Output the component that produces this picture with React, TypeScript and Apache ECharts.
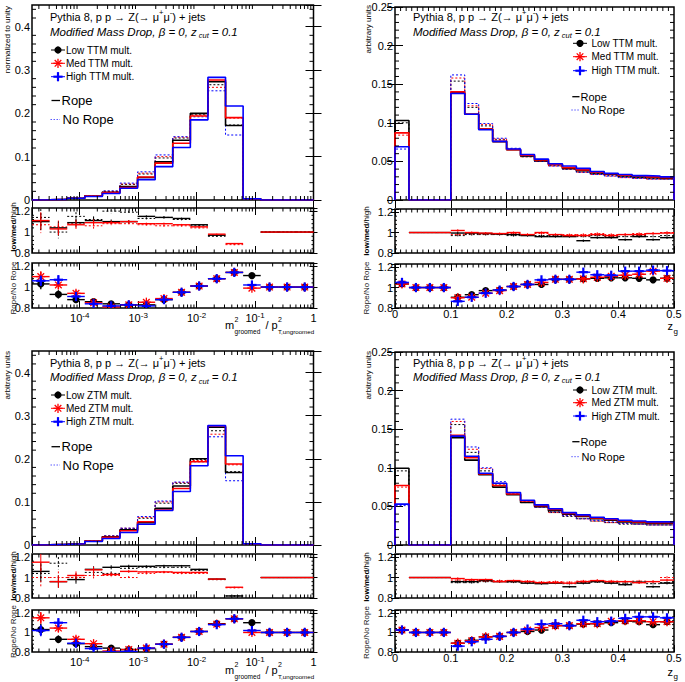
import React, { useEffect, useRef } from 'react';
import * as echarts from 'echarts';

const FONT = '"Liberation Sans", Arial, Helvetica, sans-serif';
const BLACK = '#000000';
const RED = '#ff0000';
const BLUE = '#0000ff';

// ---------- binning ----------
const massBinEdgesLog2 = [-16, -15, -14, -13, -12, -11, -10, -9, -8, -7, -6, -5, -4, -3, -2, -1, 0];
const zgBinEdges = [0, 0.025, 0.05, 0.075, 0.1, 0.125, 0.15, 0.175, 0.2, 0.225, 0.25, 0.275, 0.3, 0.325, 0.35, 0.375, 0.4, 0.425, 0.45, 0.475, 0.5];

// ---------- top-left: TTM, groomed mass ----------
const ttmMassLowRope = [0.0005, 0.0015, 0.004, 0.009, 0.018, 0.031, 0.052, 0.088, 0.138, 0.2, 0.273, 0.172, 0.003, 0, 0, 0];
const ttmMassMedRope = [0.0005, 0.0015, 0.004, 0.009, 0.017, 0.029, 0.053, 0.085, 0.131, 0.194, 0.277, 0.19, 0.003, 0, 0, 0];
const ttmMassHighRope = [0.0005, 0.0015, 0.004, 0.008, 0.015, 0.027, 0.047, 0.077, 0.121, 0.185, 0.283, 0.217, 0.003, 0, 0, 0];
const ttmMassLowNoRope = [0.0005, 0.0015, 0.004, 0.01, 0.02, 0.036, 0.06, 0.097, 0.143, 0.198, 0.266, 0.173, 0.003, 0, 0, 0];
const ttmMassMedNoRope = [0.0005, 0.0015, 0.004, 0.01, 0.02, 0.037, 0.062, 0.1, 0.145, 0.196, 0.26, 0.189, 0.003, 0, 0, 0];
const ttmMassHighNoRope = [0.0005, 0.0015, 0.004, 0.01, 0.021, 0.039, 0.065, 0.104, 0.146, 0.192, 0.252, 0.15, 0.003, 0, 0, 0];
const ttmMassLowHighRope = [1.1, 1.04, 1.09, 1.11, 1.1, 1.1, 1.15, 1.14, 1.13, 1.07, 0.97, null, null, 1, 1, 1];
const ttmMassLowHighNoRope = [1.14, 1.0, 1.15, 1.12, 1.2, 1.19, 1.13, 1.14, 1.12, 1.06, 0.96, null, null, 1, 1, 1];
const ttmMassMedHighRope = [1.11, 1.03, 1.07, 1.09, 1.09, 1.1, 1.08, 1.08, 1.07, 1.05, 0.98, 0.89, null, 1, 1, 1];
const ttmMassMedHighNoRope = [1.07, 1.05, 1.08, 1.06, 1.08, 1.08, 1.07, 1.06, 1.06, 1.04, 0.97, 0.88, null, 1, 1, 1];
const ttmMassFlavourErr = [0.08, 0.06, 0.04, 0.03, 0.02, 0.015, 0.01, 0.01, 0.008, 0.006, 0.005, 0.006, 0, 0, 0, 0];
const ttmMassLowRatio = [1.03, 0.93, 0.88, 0.86, 0.84, 0.83, 0.83, 0.88, 0.95, 1.01, 1.08, 1.14, 1.11, 1, 1, 1];
const ttmMassMedRatio = [1.1, 1.02, 0.94, 0.85, 0.81, 0.83, 0.855, 0.89, 0.95, 1.01, 1.08, 1.14, 0.99, 1, 1, 1];
const ttmMassHighRatio = [1.06, 1.07, 0.91, 0.84, 0.82, 0.83, 0.82, 0.88, 0.95, 1.01, 1.08, 1.14, 1.02, 1, 1, 1];
const ttmMassRatioErr = [0.05, 0.04, 0.03, 0.02, 0.015, 0.01, 0.01, 0.008, 0.006, 0.005, 0.005, 0.006, 0.02, 0, 0, 0];

// ---------- top-right: TTM, z_g ----------
const ttmZgLowRope = [0.103, 0, 0, 0, 0.139, 0.111, 0.092, 0.0755, 0.065, 0.057, 0.051, 0.046, 0.041, 0.038, 0.035, 0.0335, 0.031, 0.03, 0.029, 0.028];
const ttmZgMedRope = [0.087, 0, 0, 0, 0.14, 0.111, 0.092, 0.076, 0.065, 0.058, 0.052, 0.046, 0.042, 0.039, 0.036, 0.034, 0.032, 0.031, 0.03, 0.029];
const ttmZgHighRope = [0.069, 0, 0, 0, 0.138, 0.111, 0.091, 0.076, 0.066, 0.059, 0.053, 0.047, 0.044, 0.041, 0.037, 0.0345, 0.033, 0.0316, 0.031, 0.03];
const ttmZgLowNoRope = [0.1, 0, 0, 0, 0.154, 0.12, 0.096, 0.078, 0.066, 0.056, 0.05, 0.045, 0.04, 0.036, 0.034, 0.032, 0.03, 0.029, 0.028, 0.028];
const ttmZgMedNoRope = [0.084, 0, 0, 0, 0.158, 0.122, 0.098, 0.079, 0.066, 0.056, 0.05, 0.044, 0.04, 0.036, 0.033, 0.031, 0.029, 0.028, 0.027, 0.027];
const ttmZgHighNoRope = [0.066, 0, 0, 0, 0.162, 0.125, 0.099, 0.08, 0.067, 0.057, 0.05, 0.044, 0.04, 0.036, 0.033, 0.031, 0.029, 0.028, 0.027, 0.027];
const ttmZgLowHighRope = [null, 1, 1, 1, 0.995, 0.995, 0.99, 0.985, 0.98, 0.97, 0.96, 0.96, 0.96, 0.92, 0.95, 0.95, 0.93, 0.96, 0.93, 0.95];
const ttmZgLowHighNoRope = [null, 1, 1, 1, 0.97, 0.98, 0.98, 0.98, 0.97, 0.975, 0.97, 0.97, 0.97, 0.96, 0.97, 0.96, 0.96, 0.97, 0.96, 0.97];
const ttmZgMedHighRope = [null, 1, 1, 1, 1.02, 1.0, 0.995, 0.99, 1.0, 0.98, 1.0, 0.98, 0.97, 0.97, 0.98, 0.97, 0.98, 0.98, 0.99, 0.995];
const ttmZgMedHighNoRope = [null, 1, 1, 1, 0.98, 0.99, 0.985, 0.985, 0.99, 0.98, 0.99, 0.98, 0.98, 0.98, 0.99, 0.98, 0.98, 0.99, 0.99, 1.0];
const ttmZgFlavourErr = [0, 0, 0, 0, 0.012, 0.01, 0.01, 0.01, 0.01, 0.01, 0.01, 0.01, 0.01, 0.012, 0.012, 0.012, 0.012, 0.012, 0.012, 0.012];
const ttmZgLowRatio = [1.035, 1, 1, 1, 0.905, 0.93, 0.97, 0.975, 1.01, 1.03, 1.03, 1.08, 1.08, 1.085, 1.09, 1.095, 1.095, 1.09, 1.075, 1.09];
const ttmZgMedRatio = [1.035, 1, 1, 1, 0.9, 0.905, 0.945, 0.97, 1.01, 1.03, 1.05, 1.08, 1.08, 1.085, 1.1, 1.11, 1.12, 1.13, 1.16, 1.09];
const ttmZgHighRatio = [1.05, 1, 1, 1, 0.865, 0.905, 0.945, 0.975, 1.01, 1.03, 1.075, 1.08, 1.08, 1.15, 1.125, 1.12, 1.16, 1.16, 1.17, 1.165];
const ttmZgRatioErr = [0.01, 0, 0, 0, 0.012, 0.01, 0.01, 0.01, 0.01, 0.01, 0.01, 0.01, 0.01, 0.012, 0.012, 0.012, 0.012, 0.012, 0.012, 0.012];

// ---------- bottom-left: ZTM, groomed mass ----------
const ztmMassLowRope = [0.0005, 0.0015, 0.003, 0.009, 0.019, 0.035, 0.052, 0.085, 0.137, 0.2, 0.273, 0.168, 0.003, 0, 0, 0];
const ztmMassMedRope = [0.0005, 0.0015, 0.003, 0.009, 0.018, 0.033, 0.054, 0.081, 0.131, 0.193, 0.276, 0.188, 0.003, 0, 0, 0];
const ztmMassHighRope = [0.0005, 0.0015, 0.003, 0.008, 0.015, 0.029, 0.048, 0.08, 0.124, 0.184, 0.277, 0.207, 0.003, 0, 0, 0];
const ztmMassLowNoRope = [0.0005, 0.0015, 0.003, 0.01, 0.021, 0.038, 0.062, 0.097, 0.143, 0.198, 0.265, 0.17, 0.003, 0, 0, 0];
const ztmMassMedNoRope = [0.0005, 0.0015, 0.003, 0.01, 0.021, 0.039, 0.064, 0.1, 0.145, 0.196, 0.257, 0.186, 0.003, 0, 0, 0];
const ztmMassHighNoRope = [0.0005, 0.0015, 0.003, 0.01, 0.021, 0.039, 0.066, 0.102, 0.146, 0.193, 0.251, 0.149, 0.003, 0, 0, 0];
const ztmMassLowHighRope = [1.06, 0.96, 0.98, 1.08, 1.1, 1.11, 1.11, 1.115, 1.115, 1.08, 0.985, 0.82, null, 1, 1, 1];
const ztmMassLowHighNoRope = [1.04, 1.14, 1.0, 1.05, 1.04, 1.09, 1.1, 1.1, 1.1, 1.07, 0.98, 0.82, null, 1, 1, 1];
const ztmMassMedHighRope = [1.15, 0.96, 1.02, 1.075, 1.03, 1.06, 1.055, 1.055, 1.05, 1.05, 0.985, 0.905, null, 1, 1, 1];
const ztmMassMedHighNoRope = [1.0, 1.0, 1.0, 1.02, 1.02, 1.0, 1.04, 1.05, 1.04, 1.04, 0.98, 0.9, null, 1, 1, 1];
const ztmMassFlavourErr = [0.09, 0.06, 0.04, 0.03, 0.02, 0.015, 0.01, 0.01, 0.008, 0.006, 0.005, 0.006, 0, 0, 0, 0];
const ztmMassLowRatio = [1.03, 0.93, 0.885, 0.855, 0.84, 0.825, 0.835, 0.88, 0.95, 1.01, 1.09, 1.14, 1.1, 1, 1, 1];
const ztmMassMedRatio = [1.15, 1.045, 0.93, 0.885, 0.81, 0.825, 0.84, 0.88, 0.95, 1.01, 1.085, 1.14, 1.0, 1, 1, 1];
const ztmMassHighRatio = [1.02, 1.1, 0.89, 0.835, 0.8, 0.805, 0.84, 0.88, 0.95, 1.01, 1.08, 1.14, 1.02, 1, 1, 1];
const ztmMassRatioErr = [0.06, 0.04, 0.03, 0.02, 0.015, 0.01, 0.01, 0.008, 0.006, 0.005, 0.005, 0.006, 0.02, 0, 0, 0];

// ---------- bottom-right: ZTM, z_g ----------
const ztmZgLowRope = [0.0995, 0, 0, 0, 0.139, 0.11, 0.091, 0.075, 0.065, 0.055, 0.05, 0.0445, 0.04, 0.037, 0.034, 0.032, 0.03, 0.029, 0.028, 0.028];
const ztmZgMedRope = [0.077, 0, 0, 0, 0.142, 0.113, 0.092, 0.077, 0.066, 0.057, 0.051, 0.046, 0.041, 0.038, 0.035, 0.033, 0.031, 0.03, 0.029, 0.029];
const ztmZgHighRope = [0.053, 0, 0, 0, 0.141, 0.115, 0.093, 0.08, 0.068, 0.058, 0.052, 0.047, 0.042, 0.039, 0.036, 0.034, 0.032, 0.031, 0.03, 0.03];
const ztmZgLowNoRope = [0.096, 0, 0, 0, 0.156, 0.12, 0.096, 0.079, 0.066, 0.055, 0.049, 0.042, 0.037, 0.034, 0.031, 0.029, 0.027, 0.027, 0.026, 0.026];
const ztmZgMedNoRope = [0.075, 0, 0, 0, 0.16, 0.124, 0.099, 0.08, 0.067, 0.056, 0.049, 0.042, 0.038, 0.034, 0.031, 0.029, 0.028, 0.027, 0.026, 0.026];
const ztmZgHighNoRope = [0.051, 0, 0, 0, 0.163, 0.127, 0.1, 0.082, 0.068, 0.056, 0.049, 0.043, 0.038, 0.034, 0.032, 0.03, 0.028, 0.027, 0.026, 0.026];
const ztmZgLowHighRope = [null, 1, 1, 1, 0.96, 0.96, 0.97, 0.96, 0.96, 0.945, 0.94, 0.945, 0.91, 0.945, 0.96, 0.945, 0.93, 0.955, 0.91, 0.945];
const ztmZgLowHighNoRope = [null, 1, 1, 1, 0.95, 0.95, 0.96, 0.96, 0.955, 0.95, 0.95, 0.95, 0.94, 0.95, 0.955, 0.95, 0.945, 0.95, 0.94, 0.95];
const ztmZgMedHighRope = [null, 1, 1, 1, 0.99, 0.98, 0.98, 0.96, 0.97, 0.96, 0.95, 0.95, 0.945, 0.96, 0.97, 0.96, 0.96, 0.95, 0.96, 0.975];
const ztmZgMedHighNoRope = [null, 1, 1, 1, 0.975, 0.97, 0.965, 0.97, 0.96, 0.965, 0.955, 0.96, 0.955, 0.965, 0.97, 0.965, 0.96, 0.965, 0.96, 1.0];
const ztmZgFlavourErr = [0, 0, 0, 0, 0.012, 0.01, 0.01, 0.01, 0.01, 0.01, 0.01, 0.01, 0.01, 0.012, 0.012, 0.012, 0.012, 0.012, 0.012, 0.012];
const ztmZgLowRatio = [1.025, 1, 1, 1, 0.89, 0.92, 0.955, 0.96, 1.0, 1.01, 1.025, 1.07, 1.07, 1.085, 1.09, 1.1, 1.115, 1.11, 1.08, 1.11];
const ztmZgMedRatio = [1.025, 1, 1, 1, 0.89, 0.915, 0.955, 0.96, 1.0, 1.025, 1.05, 1.07, 1.07, 1.09, 1.09, 1.115, 1.12, 1.12, 1.11, 1.11];
const ztmZgHighRatio = [1.025, 1, 1, 1, 0.86, 0.905, 0.93, 0.96, 1.0, 1.035, 1.085, 1.09, 1.07, 1.125, 1.11, 1.115, 1.145, 1.16, 1.16, 1.15];
const ztmZgRatioErr = [0.01, 0, 0, 0, 0.012, 0.01, 0.01, 0.01, 0.01, 0.01, 0.01, 0.01, 0.01, 0.012, 0.012, 0.012, 0.012, 0.012, 0.012, 0.012];

// ---------- axis tick label values ----------
const massDecadeLabels = [-4, -3, -2, -1, 0];
const zgTickLabels = [0, 0.1, 0.2, 0.3, 0.4, 0.5];

// ---------- helpers ----------
const LOG10_2 = Math.log10(2);
const massEdges = massBinEdgesLog2.map((k) => k * LOG10_2);

type Num = number | null;

function stepData(edges: number[], vals: number[]) {
  const pts: number[][] = [[edges[0], 0]];
  vals.forEach((v, i) => {
    pts.push([edges[i], v], [edges[i + 1], v]);
  });
  pts.push([edges[edges.length - 1], 0]);
  return pts;
}

function binData(edges: number[], vals: Num[], errs: number[]) {
  const out: number[][] = [];
  vals.forEach((v, i) => {
    if (v === null || v === undefined) return;
    out.push([edges[i], edges[i + 1], v, errs[i] || 0]);
  });
  return out;
}

function ln(x1: number, y1: number, x2: number, y2: number, stroke: string, lineWidth: number, dash?: number[]) {
  return { type: 'line', shape: { x1, y1, x2, y2 }, style: { stroke, lineWidth, lineDash: dash || null, fill: null } };
}

function markerShape(kind: string, x: number, y: number, color: string): any[] {
  if (kind === 'circle') return [{ type: 'circle', shape: { cx: x, cy: y, r: 3.6 }, style: { fill: color } }];
  if (kind === 'plus') {
    const r = 4.6;
    return [ln(x - r, y, x + r, y, color, 2.2), ln(x, y - r, x, y + r, color, 2.2)];
  }
  const r = 4.6;
  const d = r * 0.72;
  return [
    ln(x - r, y, x + r, y, color, 1.3),
    ln(x, y - r, x, y + r, color, 1.3),
    ln(x - d, y - d, x + d, y + d, color, 1.3),
    ln(x - d, y + d, x + d, y - d, color, 1.3),
  ];
}

function segRender(color: string, dash: number[] | null, lw: number) {
  return (params: any, api: any) => {
    const x0 = api.value(0), x1 = api.value(1), y = api.value(2), e = api.value(3);
    const a = api.coord([x0, y]);
    const b = api.coord([x1, y]);
    const xc = (x0 + x1) / 2;
    const u = api.coord([xc, y + e]);
    const d = api.coord([xc, y - e]);
    const children: any[] = [ln(a[0], a[1], b[0], b[1], color, lw, dash || undefined)];
    if (e > 0) children.push(ln(u[0], u[1], d[0], d[1], color, 1, dash || undefined));
    return { type: 'group', children };
  };
}

function markerRender(kind: string, color: string) {
  return (params: any, api: any) => {
    const x0 = api.value(0), x1 = api.value(1), y = api.value(2), e = api.value(3);
    const a = api.coord([x0, y]);
    const b = api.coord([x1, y]);
    const xc = (x0 + x1) / 2;
    const c = api.coord([xc, y]);
    const children: any[] = [ln(a[0], a[1], b[0], b[1], color, 1.4)];
    if (e > 0) {
      const u = api.coord([xc, y + e]);
      const d = api.coord([xc, y - e]);
      children.push(ln(u[0], u[1], d[0], d[1], color, 1.4));
    }
    children.push(...markerShape(kind, c[0], c[1], color));
    return { type: 'group', children };
  };
}

type AxSpec = {
  min: number;
  max: number;
  interval?: number;
  majorLen: number;
  minorLen: number;
  minor: number[];
  fmt: (v: number) => string;
  rich?: any;
  labelMargin?: number;
  lineHeight?: number;
};

function linMinor(min: number, max: number, step: number, every: number) {
  const out: number[] = [];
  const n0 = Math.ceil(min / step - 1e-9);
  const n1 = Math.floor(max / step + 1e-9);
  for (let n = n0; n <= n1; n++) {
    if (n % every !== 0) out.push(n * step);
  }
  return out;
}

function logMinor(min: number, max: number) {
  const out: number[] = [];
  for (let d = -6; d <= 0; d++) {
    for (let k = 2; k <= 9; k++) {
      const v = d + Math.log10(k);
      if (v > min + 1e-9 && v < max - 1e-9) out.push(v);
    }
  }
  return out;
}

const near = (v: number, list: number[]) => list.some((t) => Math.abs(t - v) < 1e-6);

function buildOption() {
  const grid: any[] = [];
  const xAxis: any[] = [];
  const yAxis: any[] = [];
  const series: any[] = [];
  const graphic: any[] = [];

  const addGrid = (rect: number[], xs: AxSpec, ys: AxSpec, showX: boolean) => {
    const gi = grid.length;
    grid.push({
      left: rect[0], top: rect[1], width: rect[2], height: rect[3],
      show: true, borderColor: '#000', borderWidth: 1.5, backgroundColor: 'transparent', containLabel: false,
    });
    const baseAx = (s: AxSpec) => ({
      type: 'value', gridIndex: gi, min: s.min, max: s.max,
      ...(s.interval ? { interval: s.interval } : { splitNumber: 5 }),
      axisLine: { show: false }, splitLine: { show: false }, minorTick: { show: false },
      axisTick: { show: true, inside: true, length: s.majorLen, lineStyle: { color: '#000', width: 1 } },
    });
    const xi = xAxis.length;
    xAxis.push({
      ...baseAx(xs), position: 'bottom',
      axisLabel: showX
        ? { show: true, formatter: xs.fmt, color: '#000', fontSize: 11, fontFamily: FONT, margin: xs.labelMargin ?? 2, lineHeight: xs.lineHeight ?? 12, rich: xs.rich }
        : { show: false },
    });
    xAxis.push({ ...baseAx(xs), position: 'top', axisLabel: { show: false } });
    const yi = yAxis.length;
    yAxis.push({
      ...baseAx(ys), position: 'left',
      axisLabel: { show: true, formatter: ys.fmt, color: '#000', fontSize: 11, fontFamily: FONT, margin: 2 },
    });
    yAxis.push({ ...baseAx(ys), position: 'right', axisLabel: { show: false } });

    // minor ticks drawn through the axes' own scales
    const tickData: number[][] = [];
    xs.minor.forEach((v) => tickData.push([v, 0, xs.minorLen]));
    ys.minor.forEach((v) => tickData.push([v, 1, ys.minorLen]));
    series.push({
      type: 'custom', xAxisIndex: xi, yAxisIndex: yi, silent: true, z: 5,
      data: tickData,
      encode: { x: 0 },
      renderItem: (params: any, api: any) => {
        const cs = params.coordSys;
        const v = api.value(0), flag = api.value(1), len = api.value(2);
        if (flag === 0) {
          const px = api.coord([v, ys.min])[0];
          const bt = cs.y + cs.height, tp = cs.y;
          return { type: 'group', children: [ln(px, bt, px, bt - len, '#000', 1), ln(px, tp, px, tp + len, '#000', 1)] };
        }
        const py = api.coord([xs.min, v])[1];
        const l = cs.x, r = cs.x + cs.width;
        return { type: 'group', children: [ln(l, py, l + len, py, '#000', 1), ln(r, py, r - len, py, '#000', 1)] };
      },
    });
    return { xi, yi };
  };

  const massX = (majorLen: number, minorLen: number): AxSpec => ({
    min: massEdges[0], max: massEdges[massEdges.length - 1], majorLen, minorLen,
    minor: logMinor(massEdges[0], 0),
    fmt: (v: number) => {
      const r = Math.round(v);
      if (Math.abs(v - r) > 1e-6 || !near(r, massDecadeLabels)) return '';
      return r === 0 ? '1' : '10{s|' + r + '}';
    },
    rich: { s: { fontSize: 8, fontFamily: FONT, color: '#000', verticalAlign: 'top', lineHeight: 14 } },
    labelMargin: 3,
    lineHeight: 14,
  });
  const zgX = (majorLen: number, minorLen: number): AxSpec => ({
    min: 0, max: 0.5, interval: 0.1, majorLen, minorLen,
    minor: linMinor(0, 0.5, 0.01, 10),
    fmt: (v: number) => (near(v, zgTickLabels) ? String(Math.round(v * 10) / 10) : ''),
    labelMargin: 0,
    lineHeight: 11,
  });
  const mainYMass: AxSpec = {
    min: 0, max: 0.45, interval: 0.1, majorLen: 8, minorLen: 4,
    minor: linMinor(0, 0.45, 0.02, 5),
    fmt: (v: number) => (v > 0.41 ? '' : String(Math.round(v * 10) / 10)),
  };
  const mainYZg: AxSpec = {
    min: 0, max: 0.25, interval: 0.05, majorLen: 8, minorLen: 4,
    minor: linMinor(0, 0.25, 0.01, 5),
    fmt: (v: number) => String(Math.round(v * 100) / 100),
  };
  const ratioY: AxSpec = {
    min: 0.8, max: 1.23, interval: 0.2, majorLen: 4, minorLen: 2,
    minor: linMinor(0.8, 1.23, 0.04, 5),
    fmt: (v: number) => (Math.abs(v * 5 - Math.round(v * 5)) < 1e-6 ? String(Math.round(v * 10) / 10) : ''),
  };

  type Panel = {
    isMass: boolean;
    rects: number[][];
    main: number[][]; // low, med, high rope, low, med, high no-rope
    flav: Num[][]; // lowHighRope, lowHighNoRope, medHighRope, medHighNoRope
    flavErr: number[];
    ratio: number[][]; // low, med, high
    ratioErr: number[];
  };

  const panels: Panel[] = [
    {
      isMass: true,
      rects: [[32, 5, 281.5, 195], [32, 208, 281.5, 45], [32, 263, 281.5, 45]],
      main: [ttmMassLowRope, ttmMassMedRope, ttmMassHighRope, ttmMassLowNoRope, ttmMassMedNoRope, ttmMassHighNoRope],
      flav: [ttmMassLowHighRope, ttmMassLowHighNoRope, ttmMassMedHighRope, ttmMassMedHighNoRope],
      flavErr: ttmMassFlavourErr,
      ratio: [ttmMassLowRatio, ttmMassMedRatio, ttmMassHighRatio],
      ratioErr: ttmMassRatioErr,
    },
    {
      isMass: false,
      rects: [[395, 7, 279, 193], [395, 209, 279, 44], [395, 264, 279, 44]],
      main: [ttmZgLowRope, ttmZgMedRope, ttmZgHighRope, ttmZgLowNoRope, ttmZgMedNoRope, ttmZgHighNoRope],
      flav: [ttmZgLowHighRope, ttmZgLowHighNoRope, ttmZgMedHighRope, ttmZgMedHighNoRope],
      flavErr: ttmZgFlavourErr,
      ratio: [ttmZgLowRatio, ttmZgMedRatio, ttmZgHighRatio],
      ratioErr: ttmZgRatioErr,
    },
    {
      isMass: true,
      rects: [[32, 351, 281.5, 194], [32, 554, 281.5, 44], [32, 610, 281.5, 42]],
      main: [ztmMassLowRope, ztmMassMedRope, ztmMassHighRope, ztmMassLowNoRope, ztmMassMedNoRope, ztmMassHighNoRope],
      flav: [ztmMassLowHighRope, ztmMassLowHighNoRope, ztmMassMedHighRope, ztmMassMedHighNoRope],
      flavErr: ztmMassFlavourErr,
      ratio: [ztmMassLowRatio, ztmMassMedRatio, ztmMassHighRatio],
      ratioErr: ztmMassRatioErr,
    },
    {
      isMass: false,
      rects: [[395, 352, 279, 193], [395, 554, 279, 44], [395, 610, 279, 42]],
      main: [ztmZgLowRope, ztmZgMedRope, ztmZgHighRope, ztmZgLowNoRope, ztmZgMedNoRope, ztmZgHighNoRope],
      flav: [ztmZgLowHighRope, ztmZgLowHighNoRope, ztmZgMedHighRope, ztmZgMedHighNoRope],
      flavErr: ztmZgFlavourErr,
      ratio: [ztmZgLowRatio, ztmZgMedRatio, ztmZgHighRatio],
      ratioErr: ztmZgRatioErr,
    },
  ];

  panels.forEach((p) => {
    const edges = p.isMass ? massEdges : zgBinEdges;
    const xSpec = (maj: number, mn: number) => (p.isMass ? massX(maj, mn) : zgX(maj, mn));
    // main histogram
    const m = addGrid(p.rects[0], xSpec(8, 4), p.isMass ? mainYMass : mainYZg, false);
    const cols = [BLACK, RED, BLUE];
    [3, 4, 5, 0, 1, 2].forEach((si) => {
      const rope = si < 3;
      series.push({
        type: 'line', xAxisIndex: m.xi, yAxisIndex: m.yi, silent: true, clip: true,
        data: stepData(edges, p.main[si]), showSymbol: false, symbol: 'none',
        lineStyle: { color: cols[si % 3], width: rope ? 1.6 : 1, type: rope ? 'solid' : [2, 2] },
        z: rope ? 3 : 2,
      });
    });
    // low/med/high ratio
    const f = addGrid(p.rects[1], xSpec(7, 3.5), ratioY, false);
    const flavStyle = [
      { c: BLACK, dash: null, lw: 1.4 },
      { c: BLACK, dash: [2, 2], lw: 1 },
      { c: RED, dash: null, lw: 1.4 },
      { c: RED, dash: [2, 2], lw: 1 },
    ];
    [1, 3, 0, 2].forEach((fi) => {
      const st = flavStyle[fi];
      series.push({
        type: 'custom', xAxisIndex: f.xi, yAxisIndex: f.yi, silent: true, clip: true,
        data: binData(edges, p.flav[fi], p.flavErr), encode: { x: [0, 1], y: 2 },
        renderItem: segRender(st.c, st.dash, st.lw), z: 3,
      });
    });
    // rope / no rope ratio
    const r = addGrid(p.rects[2], xSpec(7, 3.5), ratioY, true);
    const kinds = ['circle', 'star', 'plus'];
    [0, 1, 2].forEach((ri) => {
      series.push({
        type: 'custom', xAxisIndex: r.xi, yAxisIndex: r.yi, silent: true, clip: true,
        data: binData(edges, p.ratio[ri], p.ratioErr), encode: { x: [0, 1], y: 2 },
        renderItem: markerRender(kinds[ri], cols[ri]), z: 3 + ri,
      });
    });
  });

  // ---------- texts ----------
  const txt = (x: number, y: number, text: string, o: any = {}) => ({
    type: 'text', x, y, rotation: o.rotation || 0, z: 100,
    style: {
      text, fill: o.color || '#000', fontSize: o.size || 11, fontFamily: FONT,
      fontStyle: o.italic ? 'italic' : 'normal', fontWeight: o.bold ? 'bold' : 'normal',
      align: o.align || 'left', verticalAlign: o.valign || 'middle',
      textAlign: o.align || 'left', textVerticalAlign: o.valign || 'middle',
      rich: o.rich,
    },
  });

  const headRich = {
    n: { fontSize: 11, fontFamily: FONT, color: '#000', lineHeight: 16, verticalAlign: 'middle' },
    s: { fontSize: 7.5, fontFamily: FONT, color: '#000', lineHeight: 16, verticalAlign: 'top' },
  };
  const mmdRich = {
    i: { fontSize: 11.5, fontFamily: FONT, fontStyle: 'italic', color: '#000', lineHeight: 16, verticalAlign: 'middle' },
    b: { fontSize: 7.5, fontFamily: FONT, fontStyle: 'italic', color: '#000', lineHeight: 16, verticalAlign: 'bottom', padding: [0, 3, 0, 2] },
  };

  type Deco = {
    tag: string; tx: number; py: number; my: number; mx: number; ttx: number; legY: number[]; legSize: number;
    ropeL: number[]; ropeTx: number; ropeY: number; noRopeY: number; ropeSize: number;
  };
  const decos: Deco[] = [
    { tag: 'TTM', tx: 50, py: 16.5, my: 31.5, mx: 58, ttx: 66, legY: [50, 63.3, 76.7], legSize: 10, ropeL: [51.5, 60], ropeTx: 61.5, ropeY: 100.5, noRopeY: 119.5, ropeSize: 13 },
    { tag: 'TTM', tx: 413, py: 16.5, my: 31.5, mx: 580, ttx: 591.5, legY: [43.3, 56.7, 70.7], legSize: 10, ropeL: [572.3, 579.5], ropeTx: 580.5, ropeY: 96.7, noRopeY: 110, ropeSize: 11 },
    { tag: 'ZTM', tx: 50, py: 362.8, my: 377.3, mx: 58, ttx: 66, legY: [395, 408.3, 421.7], legSize: 10, ropeL: [51.5, 60], ropeTx: 61.5, ropeY: 446.7, noRopeY: 465, ropeSize: 13 },
    { tag: 'ZTM', tx: 413, py: 362.7, my: 376.7, mx: 580, ttx: 591.5, legY: [390, 402.7, 416], legSize: 10, ropeL: [572.3, 579.5], ropeTx: 580.5, ropeY: 441.7, noRopeY: 456.7, ropeSize: 11 },
  ];
  const legNames = ['Low', 'Med', 'High'];
  const legCols = [BLACK, RED, BLUE];
  const legKinds = ['circle', 'star', 'plus'];
  decos.forEach((d) => {
    graphic.push(txt(d.tx, d.py, '{n|Pythia 8, p p → Z(→ μ}{s|+}{n|μ}{s|-}{n|) + jets}', { rich: headRich }));
    graphic.push(txt(d.tx, d.my, '{i|Modified Mass Drop, β = 0, z}{b|cut}{i|= 0.1}', { rich: mmdRich }));
    legNames.forEach((nm, i) => {
      const y = d.legY[i];
      graphic.push(ln(d.mx - 7, y, d.mx + 7, y, legCols[i], 1));
      markerShape(legKinds[i], d.mx, y, legCols[i]).forEach((e) => graphic.push(e));
      graphic.push(txt(d.ttx, y, nm + ' ' + d.tag + ' mult.', { size: d.legSize }));
    });
    graphic.push(ln(d.ropeL[0], d.ropeY, d.ropeL[1], d.ropeY, '#000', 1.3));
    graphic.push(txt(d.ropeTx, d.ropeY, 'Rope', { size: d.ropeSize }));
    graphic.push(ln(d.ropeL[0] - 1, d.noRopeY, d.ropeL[1], d.noRopeY, '#5a5aff', 1, [1.5, 1.5]));
    graphic.push(txt(d.ropeTx + 1, d.noRopeY, 'No Rope', { size: d.ropeSize }));
  });

  // y-axis titles
  const V = Math.PI / 2;
  graphic.push(txt(7.5, 6, 'normalized to unity', { size: 8, rotation: V, align: 'right' }));
  graphic.push(txt(368, 5, 'arbitrary units', { size: 8, rotation: V, align: 'right' }));
  graphic.push(txt(7.5, 351, 'arbitrary units', { size: 8, rotation: V, align: 'right' }));
  graphic.push(txt(368, 351, 'arbitrary units', { size: 8, rotation: V, align: 'right' }));
  const flavRich = {
    b: { fontSize: 8, fontFamily: FONT, color: '#000', fontWeight: 'bold' },
    r: { fontSize: 8, fontFamily: FONT, color: RED, fontWeight: 'bold' },
    n: { fontSize: 8, fontFamily: FONT, color: '#000' },
  };
  const flavTitle = '{b|low}{n|/}{r|med}{n|/high}';
  [[13.3, 227], [366.7, 231], [13.3, 576], [366.7, 577]].forEach(([x, y]) =>
    graphic.push(txt(x, y, flavTitle, { size: 8, rotation: V, align: 'center', rich: flavRich })));
  [[13.3, 288], [366.7, 288], [13.3, 631.5], [366.7, 632.5]].forEach(([x, y]) =>
    graphic.push(txt(x, y, 'Rope/No Rope', { size: 8, rotation: V, align: 'center', color: '#222' })));

  // x-axis titles
  [325, 670].forEach((yc) => {
    graphic.push(txt(225, yc, 'm', { size: 11 }));
    graphic.push(txt(234.6, yc - 6, '2', { size: 7 }));
    graphic.push(txt(234.6, yc + 6, 'groomed', { size: 6.5 }));
    graphic.push(txt(265.5, yc, '/ p', { size: 11 }));
    graphic.push(txt(278, yc - 6, '2', { size: 7 }));
    graphic.push(txt(278, yc + 6, 'T,ungroomed', { size: 6.2 }));
  });
  [326, 671.5].forEach((yc) => {
    graphic.push(txt(667.5, yc, 'z', { size: 11 }));
    graphic.push(txt(673.5, yc + 5, 'g', { size: 8 }));
  });

  return { animation: false, backgroundColor: '#ffffff', grid, xAxis, yAxis, series, graphic };
}

export default function App() {
  const ref = useRef<HTMLDivElement>(null);
  useEffect(() => {
    if (!ref.current) return;
    const chart = echarts.init(ref.current, null, { renderer: 'svg' });
    chart.setOption(buildOption() as any);
    return () => chart.dispose();
  }, []);
  return <div ref={ref} style={{ position: 'absolute', left: 0, top: 0, width: 685, height: 682 }} />;
}
